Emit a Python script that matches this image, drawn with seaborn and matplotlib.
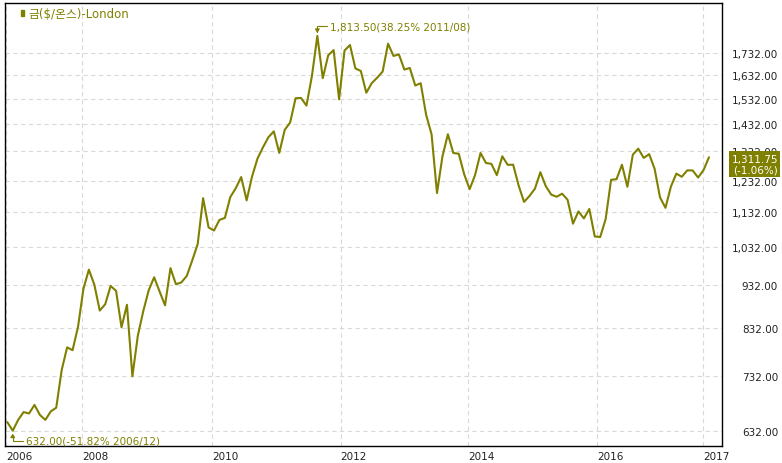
import numpy as np
import pandas as pd
import matplotlib
matplotlib.use('Agg')
import matplotlib.pyplot as plt
import matplotlib.ticker as mticker
from matplotlib.patches import Rectangle
import seaborn as sns

# gold ($/oz), London, month end, 2006/11 - 2017/08
gold_2006 = [646.70, 632.00]
gold_2007 = [650.50, 664.20, 661.75, 677.00, 659.10, 650.50, 665.50, 672.00, 743.00, 789.50, 783.50, 833.75]
gold_2008 = [923.25, 971.50, 933.50, 871.00, 885.75, 930.25, 918.00, 833.00, 884.50, 730.75, 814.50, 869.75]
gold_2009 = [919.50, 952.00, 916.50, 883.25, 975.50, 934.50, 939.00, 955.50, 995.75, 1040.00, 1175.75, 1087.50]
gold_2010 = [1078.50, 1109.50, 1115.50, 1179.25, 1207.50, 1244.00, 1169.00, 1246.00, 1307.00, 1346.75, 1383.50, 1405.50]
gold_2011 = [1327.00, 1411.00, 1439.00, 1535.50, 1536.50, 1505.50, 1628.50, 1813.50, 1620.00, 1722.00, 1746.00, 1531.00]
gold_2012 = [1744.00, 1770.00, 1662.50, 1651.25, 1558.00, 1598.50, 1622.00, 1648.50, 1776.00, 1719.00, 1726.00, 1657.50]
gold_2013 = [1664.75, 1588.50, 1598.25, 1469.00, 1394.50, 1192.00, 1314.50, 1394.75, 1326.50, 1324.00, 1253.00, 1204.50]
gold_2014 = [1251.00, 1326.50, 1291.75, 1288.50, 1250.50, 1315.00, 1285.25, 1285.75, 1216.50, 1164.25, 1182.75, 1206.00]
gold_2015 = [1260.25, 1214.00, 1187.00, 1180.25, 1190.00, 1171.00, 1098.40, 1135.00, 1114.00, 1142.35, 1061.60, 1060.00]
gold_2016 = [1111.80, 1234.90, 1237.00, 1285.65, 1212.10, 1320.75, 1342.00, 1309.25, 1322.50, 1272.00, 1178.10, 1145.90]
gold_2017 = [1212.80, 1255.60, 1244.85, 1266.45, 1266.20, 1242.25, 1267.55, 1311.75]

months = pd.period_range('2006-11', '2017-08', freq='M').strftime('%Y/%m')
gold = np.array(gold_2006 + gold_2007 + gold_2008 + gold_2009 + gold_2010 + gold_2011
                + gold_2012 + gold_2013 + gold_2014 + gold_2015 + gold_2016 + gold_2017)
last_change = -1.06  # % shown in the price tag

year_labels = ['2006', '2008', '2010', '2012', '2014', '2016', '2017']
year_pos = [-0.24, 13.7, 37.6, 61.3, 84.7, 108.4, 127.9]
y_ticks = [632, 732, 832, 932, 1032, 1132, 1232, 1332, 1432, 1532, 1632, 1732]

df = pd.DataFrame({'idx': np.arange(len(gold)), 'price': gold, 'month': months})

olive = '#808000'
sns.set_style('white')
plt.rcParams['font.family'] = ['DejaVu Sans', 'Noto Sans CJK KR']

fig = plt.figure(figsize=(7.82, 4.64), dpi=100)
ax = fig.add_axes([5/782, 1-447/464, 716.5/782, 443/464])

sns.lineplot(data=df, x='idx', y='price', color=olive, linewidth=1.5, ax=ax)

ax.set_yscale('log')
ax.set_ylim(606.7, 1980)
ax.set_xlim(-0.42, 131.3)
ax.set_xlabel('')
ax.set_ylabel('')

# y axis on the right
ax.yaxis.tick_right()
ax.yaxis.set_minor_locator(mticker.NullLocator())
ax.set_yticks(y_ticks)
ax.yaxis.set_major_formatter(mticker.FuncFormatter(lambda v, p: f'{v:,.2f}'))
ax.tick_params(axis='y', length=0, pad=40.7, labelsize=7.5, labelcolor='#222222')
for t in ax.get_yticklabels():
    t.set_ha('right')

ax.set_xticks(year_pos)
ax.set_xticklabels(year_labels)
ax.tick_params(axis='x', length=3.2, width=0.8, pad=0.5, labelsize=7.5,
               labelcolor='#222222', color='black', direction='out')
for t in ax.get_xticklabels():
    t.set_ha('left')

ax.grid(True, color='#d9d9d9', linestyle=(0, (4, 3)), linewidth=0.8)
for s in ax.spines.values():
    s.set_visible(True)
    s.set_color('black')
    s.set_linewidth(1.0)

# max / min notes
imax = int(np.argmax(gold))
imin = int(np.argmin(gold))
last = gold[-1]
arrow = dict(arrowstyle='-|>,head_length=0.3,head_width=0.18', color=olive, lw=0.8,
             shrinkA=0, shrinkB=2, relpos=(0, 0.5),
             connectionstyle='angle,angleA=0,angleB=90,rad=0')
ax.annotate(f'{gold[imax]:,.2f}({(gold[imax]/last-1)*100:.2f}% {months[imax]})',
            xy=(imax, gold[imax]), xytext=(9.2, 6.8), textcoords='offset points',
            ha='left', va='center', color=olive, fontsize=7.5, arrowprops=arrow)
ax.annotate(f'{gold[imin]:,.2f}({(gold[imin]/last-1)*100:.2f}% {months[imin]})',
            xy=(imin, gold[imin]), xytext=(9.6, -7.2), textcoords='offset points',
            ha='left', va='center', color=olive, fontsize=7.5, arrowprops=arrow)

# price tag on the right axis (covers the 1,332.00 label as in the original)
ax.annotate(f'{last:,.2f}\n({last_change:.2f}%)', xy=(1, last),
            xycoords=('axes fraction', 'data'), xytext=(40.7, -5),
            textcoords='offset points', ha='right', va='center', color='white',
            fontsize=7.5, linespacing=1.15, annotation_clip=False, zorder=5,
            bbox=dict(boxstyle='square,pad=0.2', fc=olive, ec='none'))

# legend
fig.patches.append(Rectangle((21/782, 1-17.3/464), 3.3/782, 6.3/464,
                             transform=fig.transFigure, color=olive))
fig.text(28/782, 1-14.5/464, '금($/온스)-London', color=olive, fontsize=8.5, va='center',
         family=['DejaVu Sans', 'Noto Sans CJK KR'])

fig.savefig('out.png', dpi=100, facecolor='white')
